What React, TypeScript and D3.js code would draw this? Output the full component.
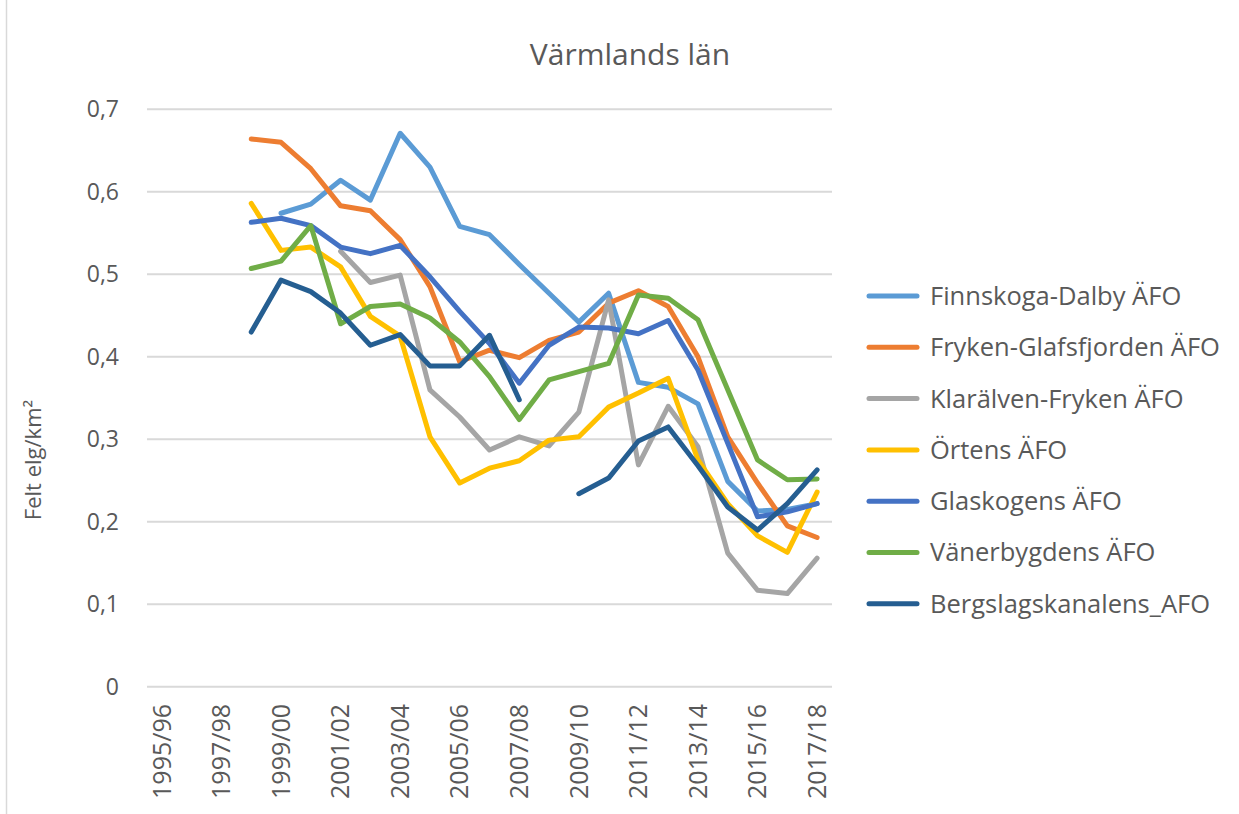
import React from "react";
import * as d3 from "d3";

const categories = [
  "1995/96", "1996/97", "1997/98", "1998/99", "1999/00", "2000/01", "2001/02", "2002/03",
  "2003/04", "2004/05", "2005/06", "2006/07", "2007/08", "2008/09", "2009/10", "2010/11",
  "2011/12", "2012/13", "2013/14", "2014/15", "2015/16", "2016/17", "2017/18",
];

const finnskoga = [null, null, null, null, 0.574, 0.585, 0.614, 0.59, 0.671, 0.63, 0.558, 0.548, 0.512, 0.477, 0.442, 0.477, 0.369, 0.363, 0.343, 0.249, 0.213, 0.215, 0.222];
const fryken = [null, null, null, 0.664, 0.66, 0.628, 0.583, 0.577, 0.542, 0.485, 0.394, 0.408, 0.399, 0.42, 0.43, 0.465, 0.48, 0.461, 0.4, 0.303, 0.247, 0.195, 0.181];
const klaralven = [null, null, null, null, null, null, 0.528, 0.49, 0.499, 0.36, 0.327, 0.287, 0.303, 0.292, 0.333, 0.469, 0.269, 0.34, 0.291, 0.162, 0.117, 0.113, 0.156];
const ortens = [null, null, null, 0.586, 0.529, 0.533, 0.509, 0.449, 0.425, 0.303, 0.247, 0.265, 0.274, 0.299, 0.303, 0.339, 0.356, 0.374, 0.275, 0.222, 0.183, 0.163, 0.236];
const glaskogen = [null, null, null, 0.563, 0.568, 0.559, 0.533, 0.525, 0.535, 0.497, 0.455, 0.416, 0.368, 0.414, 0.436, 0.435, 0.428, 0.444, 0.384, 0.295, 0.206, 0.212, 0.222];
const vanerbygden = [null, null, null, 0.507, 0.516, 0.559, 0.44, 0.461, 0.464, 0.447, 0.418, 0.376, 0.324, 0.372, 0.382, 0.392, 0.475, 0.471, 0.445, 0.36, 0.275, 0.251, 0.252];
const bergslag = [null, null, null, 0.43, 0.493, 0.479, 0.453, 0.414, 0.427, 0.389, 0.389, 0.426, 0.348, null, 0.234, 0.253, 0.298, 0.315, 0.268, 0.218, 0.19, 0.222, 0.263];

const seriesNames = [
  "Finnskoga-Dalby ÄFO",
  "Fryken-Glafsfjorden ÄFO",
  "Klarälven-Fryken ÄFO",
  "Örtens ÄFO",
  "Glaskogens ÄFO",
  "Vänerbygdens ÄFO",
  "Bergslagskanalens_AFO",
];
const seriesValues = [finnskoga, fryken, klaralven, ortens, glaskogen, vanerbygden, bergslag];
const seriesColors = ["#5B9BD5", "#ED7D31", "#A5A5A5", "#FFC000", "#4472C4", "#70AD47", "#255E91"];

const yTicks = [0, 0.1, 0.2, 0.3, 0.4, 0.5, 0.6, 0.7];

const W = 1239;
const H = 814;
const FONT = "'Open Sans', Lato, sans-serif";
const TEXT = "#595959";

export default function App() {
  const x = d3.scaleBand<string>().domain(categories).range([147, 832]).padding(0);
  const y = d3.scaleLinear().domain([0, 0.7]).range([686.8, 109.3]);
  const cx = (c: string) => (x(c) as number) + x.bandwidth() / 2;
  const locale = d3.formatLocale({ decimal: ",", thousands: " ", grouping: [3], currency: ["", " kr"] });
  const fmt = locale.format(".1f");

  const line = d3
    .line<number | null>()
    .defined((d) => d !== null)
    .x((_, i) => cx(categories[i]))
    .y((d) => y(d as number));

  return (
    <svg width={W} height={H} style={{ position: "absolute", left: 0, top: 0, background: "#fff" }}>
      <rect x={0} y={0} width={W} height={H} fill="#fff" />
      <line x1={6.5} x2={6.5} y1={0} y2={H} stroke="#d9d9d9" strokeWidth={1.5} />
      <text x={630} y={65} textAnchor="middle" fontFamily={FONT} fontSize={30} fill={TEXT}>
        Värmlands län
      </text>
      {yTicks.map((t) => (
        <g key={t}>
          <line x1={147} x2={832} y1={y(t)} y2={y(t)} stroke="#d9d9d9" strokeWidth={2} />
          <text x={119} y={y(t)} dy="0.35em" textAnchor="end" fontFamily={FONT} fontSize={23} fill={TEXT}>
            {t === 0 ? "0" : fmt(t)}
          </text>
        </g>
      ))}
      <text
        transform={`translate(41,460) rotate(-90)`}
        textAnchor="middle"
        fontFamily={FONT}
        fontSize={22}
        fill={TEXT}
      >
        Felt elg/km²
      </text>
      {categories.map((c, i) =>
        i % 2 === 0 ? (
          <text
            key={c}
            transform={`translate(${cx(c)},704) rotate(-90)`}
            dy="0.35em"
            textAnchor="end"
            fontFamily={FONT}
            fontSize={25}
            fill={TEXT}
          >
            {c}
          </text>
        ) : null
      )}
      {seriesValues.map((vals, si) => (
        <path
          key={seriesNames[si]}
          d={line(vals) || ""}
          fill="none"
          stroke={seriesColors[si]}
          strokeWidth={5}
          strokeLinejoin="round"
          strokeLinecap="round"
        />
      ))}
      {seriesNames.map((n, si) => {
        const ly = 296 + si * 51.3;
        return (
          <g key={n}>
            <line x1={869} x2={917} y1={ly} y2={ly} stroke={seriesColors[si]} strokeWidth={5} strokeLinecap="round" />
            <text x={930} y={ly} dy="0.35em" fontFamily={FONT} fontSize={25.5} fill={TEXT}>
              {n}
            </text>
          </g>
        );
      })}
    </svg>
  );
}
